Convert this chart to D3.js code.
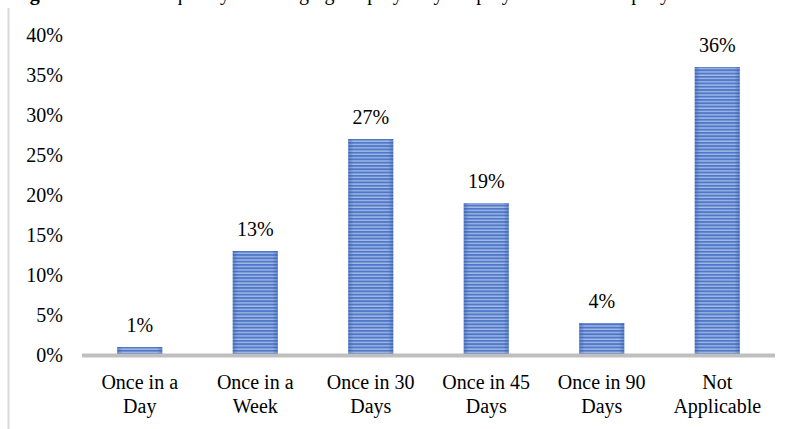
<!DOCTYPE html>
<html>
<head>
<meta charset="utf-8">
<script src="https://cdn.jsdelivr.net/npm/d3@7"></script>
<style>
  html, body { margin: 0; padding: 0; background: #fff; }
  svg { display: block; }
  text { font-family: "Liberation Serif", "Times New Roman", serif; fill: #000; }
</style>
</head>
<body>
<svg id="chart" width="791" height="429"></svg>
<script>
// Survey responses: how often respondents do it
const categories = [
  ["Once in a", "Day"],
  ["Once in a", "Week"],
  ["Once in 30", "Days"],
  ["Once in 45", "Days"],
  ["Once in 90", "Days"],
  ["Not", "Applicable"]
];
const values = [1, 13, 27, 19, 4, 36];
const yTicks = [0, 5, 10, 15, 20, 25, 30, 35, 40];

const svg = d3.select("#chart");
const W = 791, H = 429;

// Horizontal pin-stripe fill for the columns
const defs = svg.append("defs");
const pat = defs.append("pattern")
  .attr("id", "stripes")
  .attr("patternUnits", "userSpaceOnUse")
  .attr("width", 8).attr("height", 3.3);
pat.append("rect").attr("width", 8).attr("height", 3.3).attr("fill", "#a3b9e6");
pat.append("rect").attr("y", 0).attr("width", 8).attr("height", 1.9).attr("fill", "#4f78c8");

const edge = defs.append("linearGradient").attr("id", "edges")
  .attr("x1", 0).attr("x2", 1).attr("y1", 0).attr("y2", 0);
edge.append("stop").attr("offset", "0").attr("stop-color", "#2f55a8").attr("stop-opacity", 0.45);
edge.append("stop").attr("offset", "0.12").attr("stop-color", "#2f55a8").attr("stop-opacity", 0);
edge.append("stop").attr("offset", "0.88").attr("stop-color", "#2f55a8").attr("stop-opacity", 0);
edge.append("stop").attr("offset", "1").attr("stop-color", "#2f55a8").attr("stop-opacity", 0.45);

// Caption line, mostly above the top edge of the page
const cap = svg.append("text")
  .attr("x", 12).attr("y", 0)
  .style("font-size", "20px");
cap.append("tspan").style("font-weight", "bold").text("Figure 1.3:");
cap.append("tspan").text(" The Frequency of Changing Employer by Employees in the Company");

// Chart frame (left edge visible)
svg.append("line")
  .attr("x1", 8.5).attr("x2", 8.5)
  .attr("y1", 8).attr("y2", H)
  .attr("stroke", "#d9d9d9").attr("stroke-width", 2);

const x = d3.scaleBand()
  .domain(d3.range(categories.length))
  .range([82, 775])
  .paddingInner(0.61)
  .paddingOuter(0.305);

const y = d3.scaleLinear().domain([0, 40]).range([355, 35]);

// Y axis labels (no axis line or gridlines)
const yAxis = d3.axisLeft(y)
  .tickValues(yTicks)
  .tickSize(0)
  .tickPadding(0)
  .tickFormat(d => d + "%");
const yg = svg.append("g").attr("transform", "translate(63,0)").call(yAxis);
yg.select(".domain").remove();
yg.selectAll("text")
  .attr("dy", "0.34em")
  .style("font-family", "'Liberation Serif', 'Times New Roman', serif")
  .style("font-size", "20px")
  .attr("fill", "#000");

// Columns
const bars = svg.append("g");
bars.selectAll("rect.bar")
  .data(values)
  .join("rect")
  .attr("class", "bar")
  .attr("x", (d, i) => x(i))
  .attr("width", x.bandwidth())
  .attr("y", d => y(d))
  .attr("height", d => y(0) - y(d))
  .attr("fill", "url(#stripes)");
bars.selectAll("rect.edge")
  .data(values)
  .join("rect")
  .attr("class", "edge")
  .attr("x", (d, i) => x(i))
  .attr("width", x.bandwidth())
  .attr("y", d => y(d))
  .attr("height", d => y(0) - y(d))
  .attr("fill", "url(#edges)");

// Baseline
svg.append("line")
  .attr("x1", x.range()[0]).attr("x2", x.range()[1])
  .attr("y1", y(0) + 0.5).attr("y2", y(0) + 0.5)
  .attr("stroke", "#bfbfbf").attr("stroke-width", 4);

// Value labels
svg.append("g").selectAll("text")
  .data(values)
  .join("text")
  .attr("x", (d, i) => x(i) + x.bandwidth() / 2)
  .attr("y", d => y(d) - 15)
  .attr("text-anchor", "middle")
  .style("font-size", "20px")
  .text(d => d + "%");

// Category labels, two lines each
const cat = svg.append("g").selectAll("text")
  .data(categories)
  .join("text")
  .attr("x", (d, i) => x(i) + x.bandwidth() / 2)
  .attr("y", 389)
  .attr("text-anchor", "middle")
  .style("font-size", "20px");
cat.each(function(d, i) {
  const t = d3.select(this);
  const cx = x(i) + x.bandwidth() / 2;
  t.append("tspan").attr("x", cx).text(d[0]);
  t.append("tspan").attr("x", cx).attr("dy", 24).text(d[1]);
});
</script>
</body>
</html>
